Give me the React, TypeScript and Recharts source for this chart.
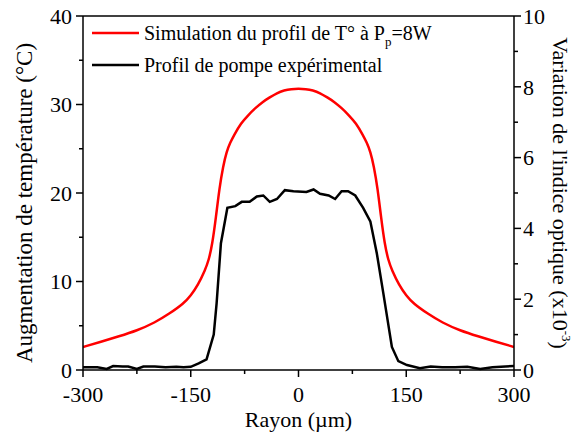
import React from "react"
import { LineChart, Line, XAxis, YAxis, ReferenceLine } from "recharts"

// Simulated temperature profile (°C, left scale) vs radius (µm)
const simX = [-300, -275, -250, -225, -200, -180, -160, -150, -140, -130, -125, -120, -115, -110, -105, -100, -95, -90, -80, -70, -60, -50, -40, -30, -20, -10, 0, 10, 20, 30, 40, 50, 60, 70, 80, 90, 95, 100, 105, 110, 115, 120, 125, 130, 140, 150, 160, 180, 200, 225, 250, 275, 300]
const simT = [2.6, 3.2, 3.8, 4.45, 5.35, 6.35, 7.5, 8.4, 9.6, 11.3, 12.4, 14.2, 17.2, 20.6, 23.0, 24.7, 25.7, 26.5, 27.9, 28.8, 29.6, 30.3, 30.8, 31.3, 31.6, 31.75, 31.8, 31.75, 31.6, 31.3, 30.8, 30.3, 29.6, 28.8, 27.9, 26.5, 25.7, 24.7, 23.0, 20.6, 17.2, 14.2, 12.4, 11.3, 9.6, 8.4, 7.5, 6.35, 5.35, 4.45, 3.8, 3.2, 2.6]

// Measured pump profile (right scale)
const expX = [-300, -280, -267, -258, -245, -237, -225, -216, -200, -185, -170, -160, -150, -139, -128, -118, -114, -108, -99, -88, -79, -68, -58, -49, -40, -30, -19, -7, 11, 21, 30, 42, 51, 60, 69, 79, 90, 100, 109, 118, 130, 139, 151, 169, 184, 200, 218, 235, 253, 270, 288, 300]
const expV = [0.08, 0.08, 0.03, 0.11, 0.1, 0.1, 0.03, 0.1, 0.1, 0.08, 0.09, 0.08, 0.09, 0.19, 0.3, 1.0, 1.88, 3.58, 4.58, 4.63, 4.75, 4.75, 4.9, 4.93, 4.75, 4.83, 5.08, 5.05, 5.03, 5.1, 4.98, 4.93, 4.83, 5.05, 5.05, 4.93, 4.58, 4.2, 3.3, 2.18, 0.65, 0.25, 0.14, 0.05, 0.1, 0.08, 0.08, 0.09, 0.03, 0.08, 0.1, 0.11]

const xMajor = [-300, -150, 0, 150, 300]
const xMinor = [-225, -75, 75, 225]
const leftMajor = [0, 10, 20, 30, 40]
const leftMinor = [5, 15, 25, 35]
const rightMajor = [0, 2, 4, 6, 8, 10]
const rightMinor = [1, 3, 5, 7, 9]

const simData = simX.map((x, i) => ({ r: x, t: simT[i] }))
const expData = expX.map((x, i) => ({ r: x, v: expV[i] }))

const FONT = "'Liberation Serif', 'Times New Roman', serif"

const XTick = (props: any) => {
    const { x, y, payload } = props
    const major = xMajor.includes(payload.value)
    return (
        <g>
            <line x1={x} y1={y} x2={x} y2={y + (major ? 7 : 4)} stroke="#000" strokeWidth={1.5} />
            {major && (
                <text x={x} y={y + 32} textAnchor="middle" fontFamily={FONT} fontSize={22} fill="#000">
                    {payload.value}
                </text>
            )}
        </g>
    )
}

const LeftTick = (props: any) => {
    const { x, y, payload } = props
    const major = leftMajor.includes(payload.value)
    return (
        <g>
            <line x1={x} y1={y} x2={x - (major ? 7 : 4)} y2={y} stroke="#000" strokeWidth={1.5} />
            {major && (
                <text x={x - 11} y={y} dy="0.35em" textAnchor="end" fontFamily={FONT} fontSize={22} fill="#000">
                    {payload.value}
                </text>
            )}
        </g>
    )
}

const RightTick = (props: any) => {
    const { x, y, payload } = props
    const major = rightMajor.includes(payload.value)
    return (
        <g>
            <line x1={x} y1={y} x2={x + (major ? 7 : 4)} y2={y} stroke="#000" strokeWidth={1.5} />
            {major && (
                <text x={x + 9} y={y} dy="0.35em" textAnchor="start" fontFamily={FONT} fontSize={22} fill="#000">
                    {payload.value}
                </text>
            )}
        </g>
    )
}

const LegendBox = () => (
    <svg width={350} height={56} style={{ position: "absolute", left: 92, top: 24, overflow: "visible" }}>
        <line x1={0} y1={9} x2={47} y2={9} stroke="#ff0000" strokeWidth={2.5} />
        <text x={52} y={16} fontFamily={FONT} fontSize={20} fill="#000">
            Simulation du profil de T° à P
            <tspan fontSize={13} dy={6}>p</tspan>
            <tspan dy={-6}>=8W</tspan>
        </text>
        <line x1={0} y1={41} x2={47} y2={41} stroke="#000" strokeWidth={2.5} />
        <text x={52} y={48} fontFamily={FONT} fontSize={20} fill="#000">
            Profil de pompe expérimental
        </text>
    </svg>
)

export default function App() {
    return (
        <div style={{ position: "absolute", left: 0, top: 0, width: 573, height: 435, background: "#fff" }}>
            <LineChart width={573} height={435} margin={{ top: 16, right: 0, bottom: 0, left: 0 }}>
                <XAxis
                    dataKey="r"
                    type="number"
                    domain={[-300, 300]}
                    ticks={[...xMajor, ...xMinor]}
                    interval={0}
                    tick={<XTick />}
                    tickLine={false}
                    tickSize={0}
                    tickMargin={0}
                    height={65}
                    axisLine={{ stroke: "#000", strokeWidth: 1.5 }}
                    allowDataOverflow
                    label={(p: any) => {
                        const vb = p.viewBox
                        return (
                            <text x={vb.x + vb.width / 2} y={vb.y + 57} textAnchor="middle" fontFamily={FONT} fontSize={22} fill="#000">
                                Rayon (µm)
                            </text>
                        )
                    }}
                />
                <YAxis
                    yAxisId="left"
                    type="number"
                    domain={[0, 40]}
                    ticks={[...leftMajor, ...leftMinor]}
                    interval={0}
                    tick={<LeftTick />}
                    tickLine={false}
                    tickSize={0}
                    tickMargin={0}
                    width={83}
                    axisLine={{ stroke: "#000", strokeWidth: 1.5 }}
                    label={(p: any) => {
                        const vb = p.viewBox
                        const cy = vb.y + vb.height / 2 + 10
                        return (
                            <text x={24} y={cy} transform={`rotate(-90 24 ${cy})`} textAnchor="middle" dominantBaseline="central" fontFamily={FONT} fontSize={23} fill="#000">
                                Augmentation de température (°C)
                            </text>
                        )
                    }}
                />
                <YAxis
                    yAxisId="right"
                    orientation="right"
                    type="number"
                    domain={[0, 10]}
                    ticks={[...rightMajor, ...rightMinor]}
                    interval={0}
                    tick={<RightTick />}
                    tickLine={false}
                    tickSize={0}
                    tickMargin={0}
                    width={59}
                    axisLine={{ stroke: "#000", strokeWidth: 1.5 }}
                    label={(p: any) => {
                        const vb = p.viewBox
                        const cy = vb.y + vb.height / 2
                        return (
                            <text x={560} y={cy} transform={`rotate(90 560 ${cy})`} textAnchor="middle" dominantBaseline="central" fontFamily={FONT} fontSize={22} fill="#000">
                                Variation de l'indice optique (x10
                                <tspan fontSize={13} dy={-7}>-3</tspan>
                                <tspan dy={7}>)</tspan>
                            </text>
                        )
                    }}
                />
                <ReferenceLine yAxisId="left" y={40} stroke="#000" strokeWidth={1.5} />
                <Line
                    yAxisId="left"
                    data={simData}
                    dataKey="t"
                    type="basis"
                    stroke="#ff0000"
                    strokeWidth={2.5}
                    dot={false}
                    isAnimationActive={false}
                />
                <Line
                    yAxisId="right"
                    data={expData}
                    dataKey="v"
                    type="linear"
                    stroke="#000"
                    strokeWidth={2.5}
                    dot={false}
                    isAnimationActive={false}
                />
            </LineChart>
            <LegendBox />
        </div>
    )
}
